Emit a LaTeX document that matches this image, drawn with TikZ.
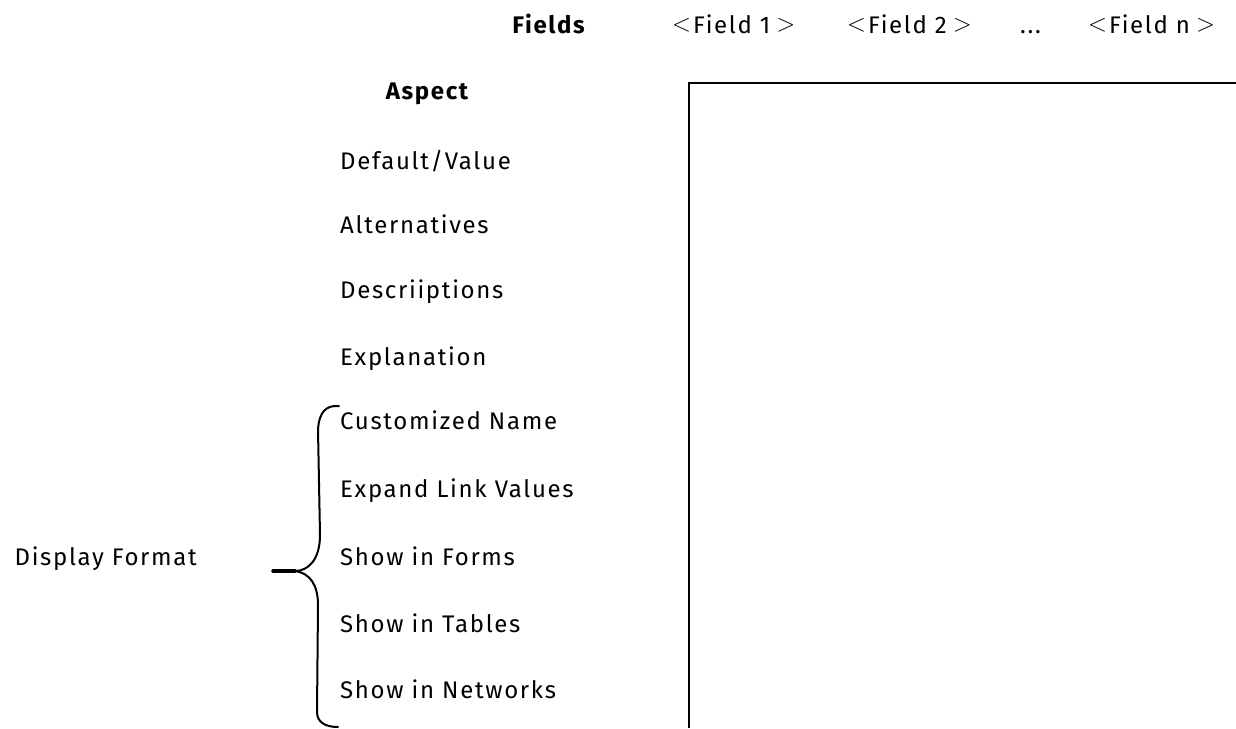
\documentclass[tikz,border=0pt]{standalone}
\usepackage{fontspec}
\setmainfont{Fira Sans}[LetterSpace=7]
\newcommand{\lt}{\raisebox{0.05em}{$<$}}
\newcommand{\gt}{\raisebox{0.05em}{$>$}}
\begin{document}
\begin{tikzpicture}[x=1pt,y=-1pt,
  lbl/.style={inner sep=0pt, anchor=base west, font=\fontsize{24}{28}\selectfont},
  hdr/.style={inner sep=0pt, anchor=base, font=\fontsize{24}{28}\selectfont\bfseries},
  brace/.style={line width=2pt, line cap=round, line join=round}]
\useasboundingbox (0,0) rectangle (1236,728);
% header row
\node[hdr, anchor=base east] (fields) at (585,33) {Fields};
\node[lbl] (f1) at (672,33) {\lt\kern2pt Field 1\kern6pt\gt};
\node[lbl] (f2) at (847,33) {\lt\kern2pt Field 2\kern6pt\gt};
\node[lbl] (dots) at (1020,33) {...};
\node[lbl] (fn) at (1088,33) {\lt\kern2pt Field n\kern6pt\gt};
% aspect column
\node[hdr] (aspect) at (427,99) {Aspect};
\node[lbl] (a1) at (340,169) {Default/Value};
\node[lbl] (a2) at (340,233) {Alternatives};
\node[lbl] (a3) at (340,298) {Descriiptions};
\node[lbl] (a4) at (340,365) {Explanation};
\node[lbl] (a5) at (340,429) {Customized Name};
\node[lbl] (a6) at (340,497) {Expand Link Values};
\node[lbl] (a7) at (340,565) {Show in Forms};
\node[lbl] (a8) at (340,632) {Show in Tables};
\node[lbl] (a9) at (340,698) {Show in Networks};
\node[lbl, anchor=base east] (disp) at (197,565) {Display Format};
% table frame
\draw[line width=2.6pt] (689,728) -- (689,83) -- (1236,83);
% brace
\coordinate (bt) at (339,406);
\coordinate (bm) at (295,571);
\coordinate (tip) at (273,571);
\coordinate (bb) at (338,727);
\draw[brace] (bt) .. controls (326,405) and (319,412) .. (318,430)
  -- (320,535) .. controls (320,560) and (308,571) .. (bm);
\draw[brace] (bm) .. controls (310,573) and (318,585) .. (318,605)
  -- (317,712) .. controls (317,722) and (325,727) .. (bb);
\draw[line width=3.5pt, line cap=round] (tip) -- (bm);
\end{tikzpicture}
\end{document}
